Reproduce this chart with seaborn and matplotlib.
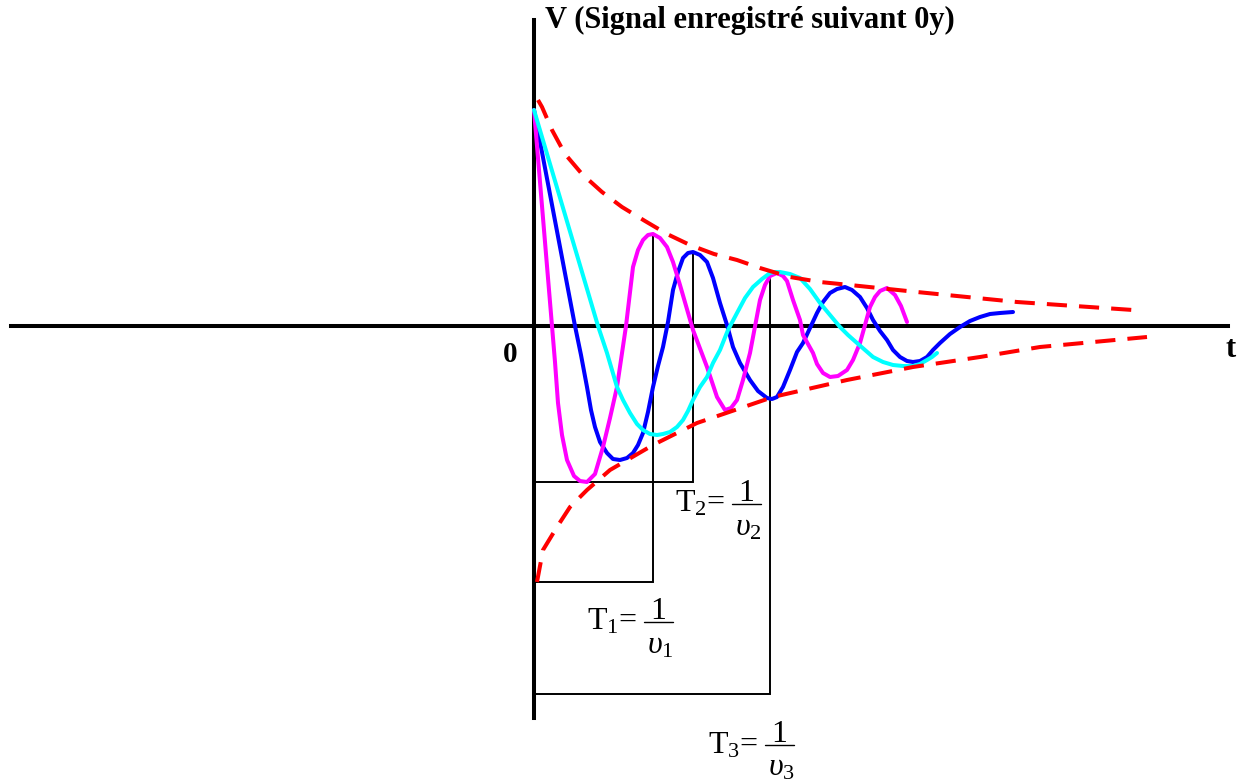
import numpy as np
import pandas as pd
import matplotlib
matplotlib.use("Agg")
import matplotlib.pyplot as plt
import seaborn as sns

# --- signal data (time t and amplitude V, arbitrary units) ---
t_magenta = [0, 18, 21, 24, 28, 33, 40, 46, 53, 61, 69, 76, 83, 92, 99, 104, 109, 114, 119,
             126, 133, 139, 146, 159, 173, 183, 191, 197, 203, 209, 216, 226, 231, 236, 243,
             249, 253, 259, 266, 269, 279, 283, 289, 296, 304, 313, 319, 326, 336, 341, 346,
             353, 361, 367, 373]
v_magenta = [216, 0, -36, -77, -109, -134, -150, -155, -156, -148, -121, -92, -61, 0, 59, 76,
             86, 91, 92, 88, 79, 64, 41, -4, -41, -71, -84, -82, -74, -54, -27, 26, 41, 50, 53,
             50, 45, 26, 6, -9, -27, -38, -47, -51, -50, -44, -34, -17, 19, 29, 35, 38, 31, 20, 4]

t_blue = [0, 41, 47, 53, 57, 61, 66, 73, 79, 86, 93, 99, 104, 109, 114, 119, 124, 129, 134,
          139, 144, 149, 154, 159, 166, 173, 179, 186, 193, 199, 206, 216, 224, 233, 238, 243,
          249, 256, 263, 269, 276, 283, 289, 296, 303, 311, 318, 326, 333, 339, 346, 353, 359,
          366, 373, 379, 386, 393, 399, 406, 416, 426, 436, 446, 456, 466, 479]
v_blue = [216, 0, -29, -61, -84, -101, -116, -127, -133, -134, -132, -127, -119, -107, -86,
          -61, -40, -21, 4, 36, 54, 68, 73, 74, 71, 64, 48, 23, 1, -21, -37, -54, -65, -72,
          -73, -71, -61, -44, -26, -17, -2, 13, 24, 33, 37, 39, 36, 29, 18, 6, -5, -14, -24,
          -31, -35, -36, -35, -31, -24, -17, -8, -1, 5, 9, 12, 13, 14]

t_cyan = [0, 64, 68, 73, 78, 83, 89, 96, 103, 109, 116, 123, 129, 136, 143, 149, 154, 159,
          166, 173, 179, 186, 194, 203, 211, 219, 228, 236, 241, 246, 256, 266, 276, 286, 296,
          306, 314, 323, 331, 339, 349, 359, 369, 379, 386, 393, 398, 403]
v_cyan = [216, 0, -12, -27, -44, -61, -74, -87, -98, -104, -108, -109, -108, -106, -101, -94,
          -85, -74, -61, -51, -37, -24, -4, 13, 28, 39, 47, 53, 54, 54, 52, 48, 37, 23, 11, -1,
          -9, -17, -24, -31, -36, -39, -40, -40, -38, -34, -31, -27]

# damping envelope
t_env_up = [4, 8, 18, 31, 48, 68, 88, 111, 133, 156, 180, 203, 226, 256, 286, 316, 383, 483, 599]
v_env_up = [226, 219, 196, 172, 152, 134, 119, 105, 92, 81, 72, 66, 58, 49, 44, 41, 34, 24, 16]
t_env_dn = [3, 9, 23, 36, 53, 76, 119, 163, 239, 313, 379, 446, 506, 613]
v_env_dn = [-256, -224, -201, -181, -164, -144, -119, -97, -71, -54, -41, -31, -21, -11]

# periods T1, T2, T3 with the crest each one is read from and the level of its bracket
periods = [119, 159, 236]
crest_v = [92, 74, 51]
bracket_v = [-256, -156, -368]
period_idx = ["1", "2", "3"]

# --- style ---
sns.set_theme(style="white")
plt.rcParams["font.family"] = ["Liberation Serif", "DejaVu Serif"]
plt.rcParams["text.color"] = "black"
plt.rcParams["mathtext.fontset"] = "custom"
plt.rcParams["mathtext.rm"] = "Liberation Serif"
plt.rcParams["mathtext.it"] = "Liberation Serif:italic"
plt.rcParams["mathtext.bf"] = "Liberation Serif:bold"

fig = plt.figure(figsize=(12.45, 7.82), dpi=100)
ax = fig.add_axes([0, 0, 1, 1])
ax.set_xlim(-534, 711)
ax.set_ylim(-456, 326)

curve_lw = 2.9
for t, v, col in [(t_blue, v_blue, "#0000FF"),
                  (t_magenta, v_magenta, "#FF00FF"),
                  (t_cyan, v_cyan, "#00FFFF")]:
    sns.lineplot(x=t, y=v, ax=ax, sort=False, estimator=None, color=col,
                 linewidth=curve_lw, zorder=3)

for t, v in [(t_env_up, v_env_up), (t_env_dn, v_env_dn)]:
    line = sns.lineplot(x=t, y=v, ax=ax, sort=False, estimator=None, color="#FF0000",
                        linewidth=curve_lw, zorder=4).lines[-1]
    line.set_dashes((5, 3))

# period brackets: vertical from the crest, horizontal back to t = 0
for T, top, low in zip(periods, crest_v, bracket_v):
    ax.plot([T, T, 0], [top, low, low], color="black", linewidth=1.4, zorder=2,
            solid_joinstyle="miter")

# axes through the origin
for side in ["top", "right"]:
    ax.spines[side].set_visible(False)
ax.spines["left"].set_position(("data", 0))
ax.spines["bottom"].set_position(("data", 0))
ax.spines["left"].set_bounds(-392, 306)
ax.spines["bottom"].set_bounds(-523, 694)
for side in ["left", "bottom"]:
    ax.spines[side].set_linewidth(2.9)
    ax.spines[side].set_color("black")
    ax.spines[side].set_zorder(2.5)
ax.set_xticks([])
ax.set_yticks([])
ax.set_xlabel("")
ax.set_ylabel("")

ax.text(11, 306, "V (Signal enregistré suivant 0y)", fontsize=22, fontweight="bold",
        ha="left", va="center", color="black")
ax.text(-24, -29, "0", fontsize=21, fontweight="bold", ha="center", va="center",
        color="black")
ax.text(697, -24, "t", fontsize=22, fontweight="bold", ha="center", va="center",
        color="black")

# T_i = 1 / nu_i labels
label_pos = [(53, -304), (141, -186), (174, -427)]
fs = 23
for (x0, y0), k in zip(label_pos, period_idx):
    ax.text(x0, y0, r"T$_{\mathrm{" + k + r"}}$=", fontsize=fs, ha="left",
            va="baseline", color="black")
    bx0, bx1, by = x0 + 57, x0 + 86, y0 + 8
    ax.plot([bx0, bx1], [by, by], color="black", linewidth=1.0)
    ax.text((bx0 + bx1) / 2, by + 3, "1", fontsize=fs, ha="center", va="baseline",
            color="black")
    ax.text((bx0 + bx1) / 2 + 2, by - 31, r"$υ_{\mathrm{" + k + r"}}$", fontsize=fs,
            ha="center", va="baseline", color="black")

fig.savefig("out.png", dpi=100)
